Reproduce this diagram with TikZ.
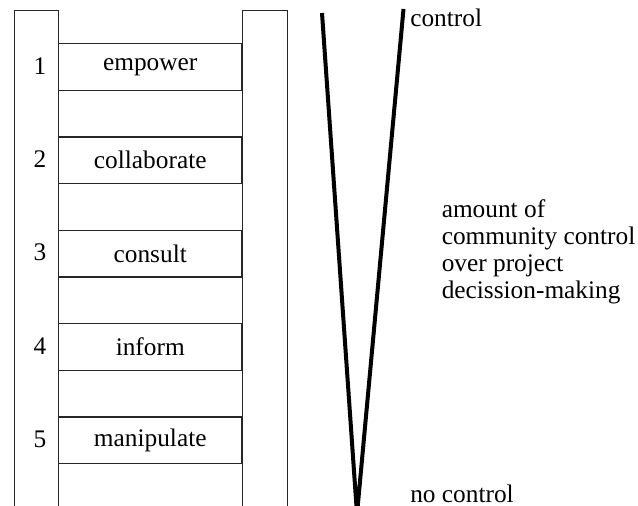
\documentclass[tikz,border=0pt]{standalone}
\usepackage{fontspec}
\setmainfont{Liberation Serif}
\begin{document}
\begin{tikzpicture}[x=0.75pt,y=-0.75pt,
        rail/.style={draw=black!85,line width=0.6pt},
        txt/.style={font=\fontsize{19}{20.25}\selectfont,inner sep=0pt},
        rung/.style={txt,draw=black!85,line width=0.9pt,minimum width=137.6pt,minimum height=34.95pt}]
    \useasboundingbox (0,0) rectangle (638,506);
    \clip (0,0) rectangle (638,506);

    \draw[rail] (14,512) -- (14,10.7) -- (58.5,10.7) -- (58.5,512);
    \draw[rail] (242,512) -- (242,10.7) -- (287,10.7) -- (287,512);

    \foreach \i/\lab in {1/empower,2/collaborate,3/consult,4/inform,5/manipulate}
    {
        \node[rung] (rung\i) at (150.25, {67+(\i-1)*93.3}) {\lab};
        \node[txt] (num\i) at (40, {66+(\i-1)*93.3}) {\i};
    }

    \coordinate (ltop) at (322,13);
    \coordinate (rtop) at (403.5,9);
    \coordinate (apex) at (357,514);
    \draw[line width=3pt] (ltop) -- (apex) -- (rtop);

    \node[txt,anchor=base west] (ctrl) at (410,27) {control};
    \node[txt,anchor=base west] (noctrl) at (410,502) {no control};
    \node[txt,anchor=north west,align=left] (amount) at (441.5,199) {amount of\\community control\\over project\\decission-making};
\end{tikzpicture}
\end{document}
